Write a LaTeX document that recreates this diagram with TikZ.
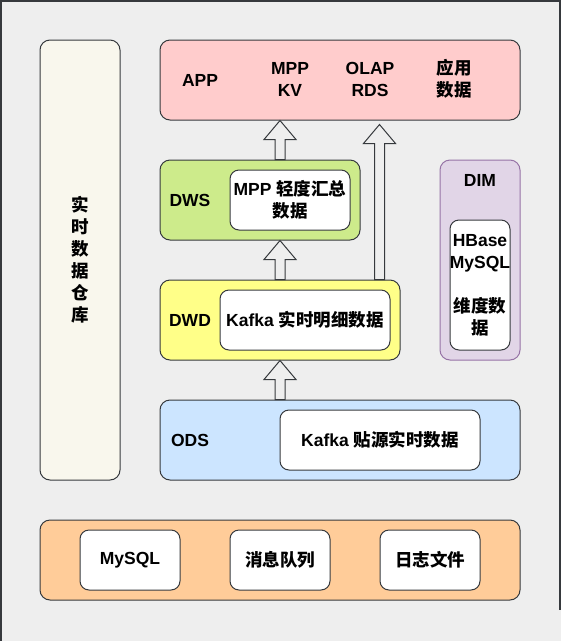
\documentclass[tikz,border=0pt]{standalone}
\usepackage{fontspec}
\setmainfont{Liberation Sans}
\newfontfamily\cjk{Noto Sans CJK SC}
\usepackage{tikz}
\usetikzlibrary{calc}

\definecolor{bggray}{HTML}{EEEEEE}
\definecolor{edge}{HTML}{36393D}
\definecolor{appred}{HTML}{FFCCCC}
\definecolor{dwsgreen}{HTML}{CDEB8B}
\definecolor{dwdyellow}{HTML}{FFFF88}
\definecolor{odsblue}{HTML}{CCE5FF}
\definecolor{srcorange}{HTML}{FFCC99}
\definecolor{whcream}{HTML}{F9F7ED}
\definecolor{dimpurple}{HTML}{E1D5E7}
\definecolor{dimedge}{HTML}{9673A6}

\tikzset{
  layer/.style={draw=edge, line width=1pt, rounded corners=10pt, inner sep=0pt},
  store/.style={draw=edge, fill=white, line width=1pt, rounded corners=9pt, inner sep=0pt},
  lbl/.style={font=\bfseries\fontsize{17.5}{22}\selectfont, align=center, inner sep=0pt},
  hollow/.style={draw=edge, line width=1pt, fill=bggray, line join=miter},
}

% hollow block arrow going up from #1 to #2
\newcommand{\flexup}[2]{%
  \draw[hollow] let \p1=(#1), \p2=(#2) in
    (\x1-5pt,\y1) -- (\x1-5pt,\y2-19pt) -- (\x1-16pt,\y2-19pt) -- (\x1,\y2)
    -- (\x1+16pt,\y2-19pt) -- (\x1+5pt,\y2-19pt) -- (\x1+5pt,\y1) -- cycle;}

\begin{document}
\begin{tikzpicture}[x=1pt,y=-1pt]

\useasboundingbox (0,0) rectangle (561,641);
\fill[bggray] (0,0) rectangle (561,641);
\draw[edge, line width=1.5pt] (0.75,641) -- (0.75,0.75) -- (559.75,0.75) -- (559.75,610);

% Layers
\node[layer, fill=whcream, minimum width=80pt, minimum height=440pt] (dw) at (80,260) {};
\node[layer, fill=appred, minimum width=360pt, minimum height=80pt] (app) at (340,80) {};
\node[layer, fill=dwsgreen, minimum width=200pt, minimum height=80pt] (dws) at (260,200) {};
\node[layer, fill=dwdyellow, minimum width=240pt, minimum height=80pt] (dwd) at (280,320) {};
\node[layer, fill=dimpurple, draw=dimedge, minimum width=80pt, minimum height=200pt] (dim) at (480,260) {};
\node[layer, fill=odsblue, minimum width=360pt, minimum height=80pt] (ods) at (340,440) {};
\node[layer, fill=srcorange, minimum width=480pt, minimum height=80pt] (src) at (280,560) {};

% Inner stores
\node[store, minimum width=120pt, minimum height=60pt] (dwsdata) at (290,200) {};
\node[store, minimum width=170pt, minimum height=60pt] (dwddata) at (305,320) {};
\node[store, minimum width=60pt, minimum height=130pt] (dimdata) at (480,285) {};
\node[store, minimum width=200pt, minimum height=60pt] (odsdata) at (380,440) {};
\node[store, minimum width=100pt, minimum height=60pt] (mysql) at (130,560) {};
\node[store, minimum width=100pt, minimum height=60pt] (mq) at (280,560) {};
\node[store, minimum width=100pt, minimum height=60pt] (logs) at (430,560) {};

% Labels
\node[lbl] (dwlbl) at (80,260) {\cjk 实\\\cjk 时\\\cjk 数\\\cjk 据\\\cjk 仓\\\cjk 库};
\node[lbl] (applbl) at (200,80) {APP};
\node[lbl] (mpp) at (290,79) {MPP\\KV};
\node[lbl] (olap) at (370,79) {OLAP\\RDS};
\node[lbl] (appdata) at (454,79) {\cjk 应用\\\cjk 数据};
\node[lbl] (dwslbl) at (190,200) {DWS};
\node[lbl] at (dwsdata) {MPP {\cjk 轻度汇总}\\\cjk 数据};
\node[lbl] (dwdlbl) at (190,320) {DWD};
\node[lbl] at (dwddata) {Kafka {\cjk 实时明细数据}};
\node[lbl] (dimlbl) at (480,180) {DIM};
\node[lbl] at (dimdata) {HBase\\MySQL\\[22pt]\cjk 维度数\\\cjk 据};
\node[lbl] (odslbl) at (190,440) {ODS};
\node[lbl] at (odsdata) {Kafka {\cjk 贴源实时数据}};
\node[lbl] at (mysql) {MySQL};
\node[lbl] at (mq) {\cjk 消息队列};
\node[lbl] at (logs) {\cjk 日志文件};

% Flow arrows
\flexup{dwd.north |- ods.north}{dwd.south}
\flexup{dwd.north}{dwd.north |- dws.south}
\flexup{dwd.north |- dws.north}{dwd.north |- app.south}
\coordinate (up) at ($(dwd.north east)+(-21,0)$);
\flexup{up}{$(up |- app.south)+(0,4)$}

\end{tikzpicture}
\end{document}
